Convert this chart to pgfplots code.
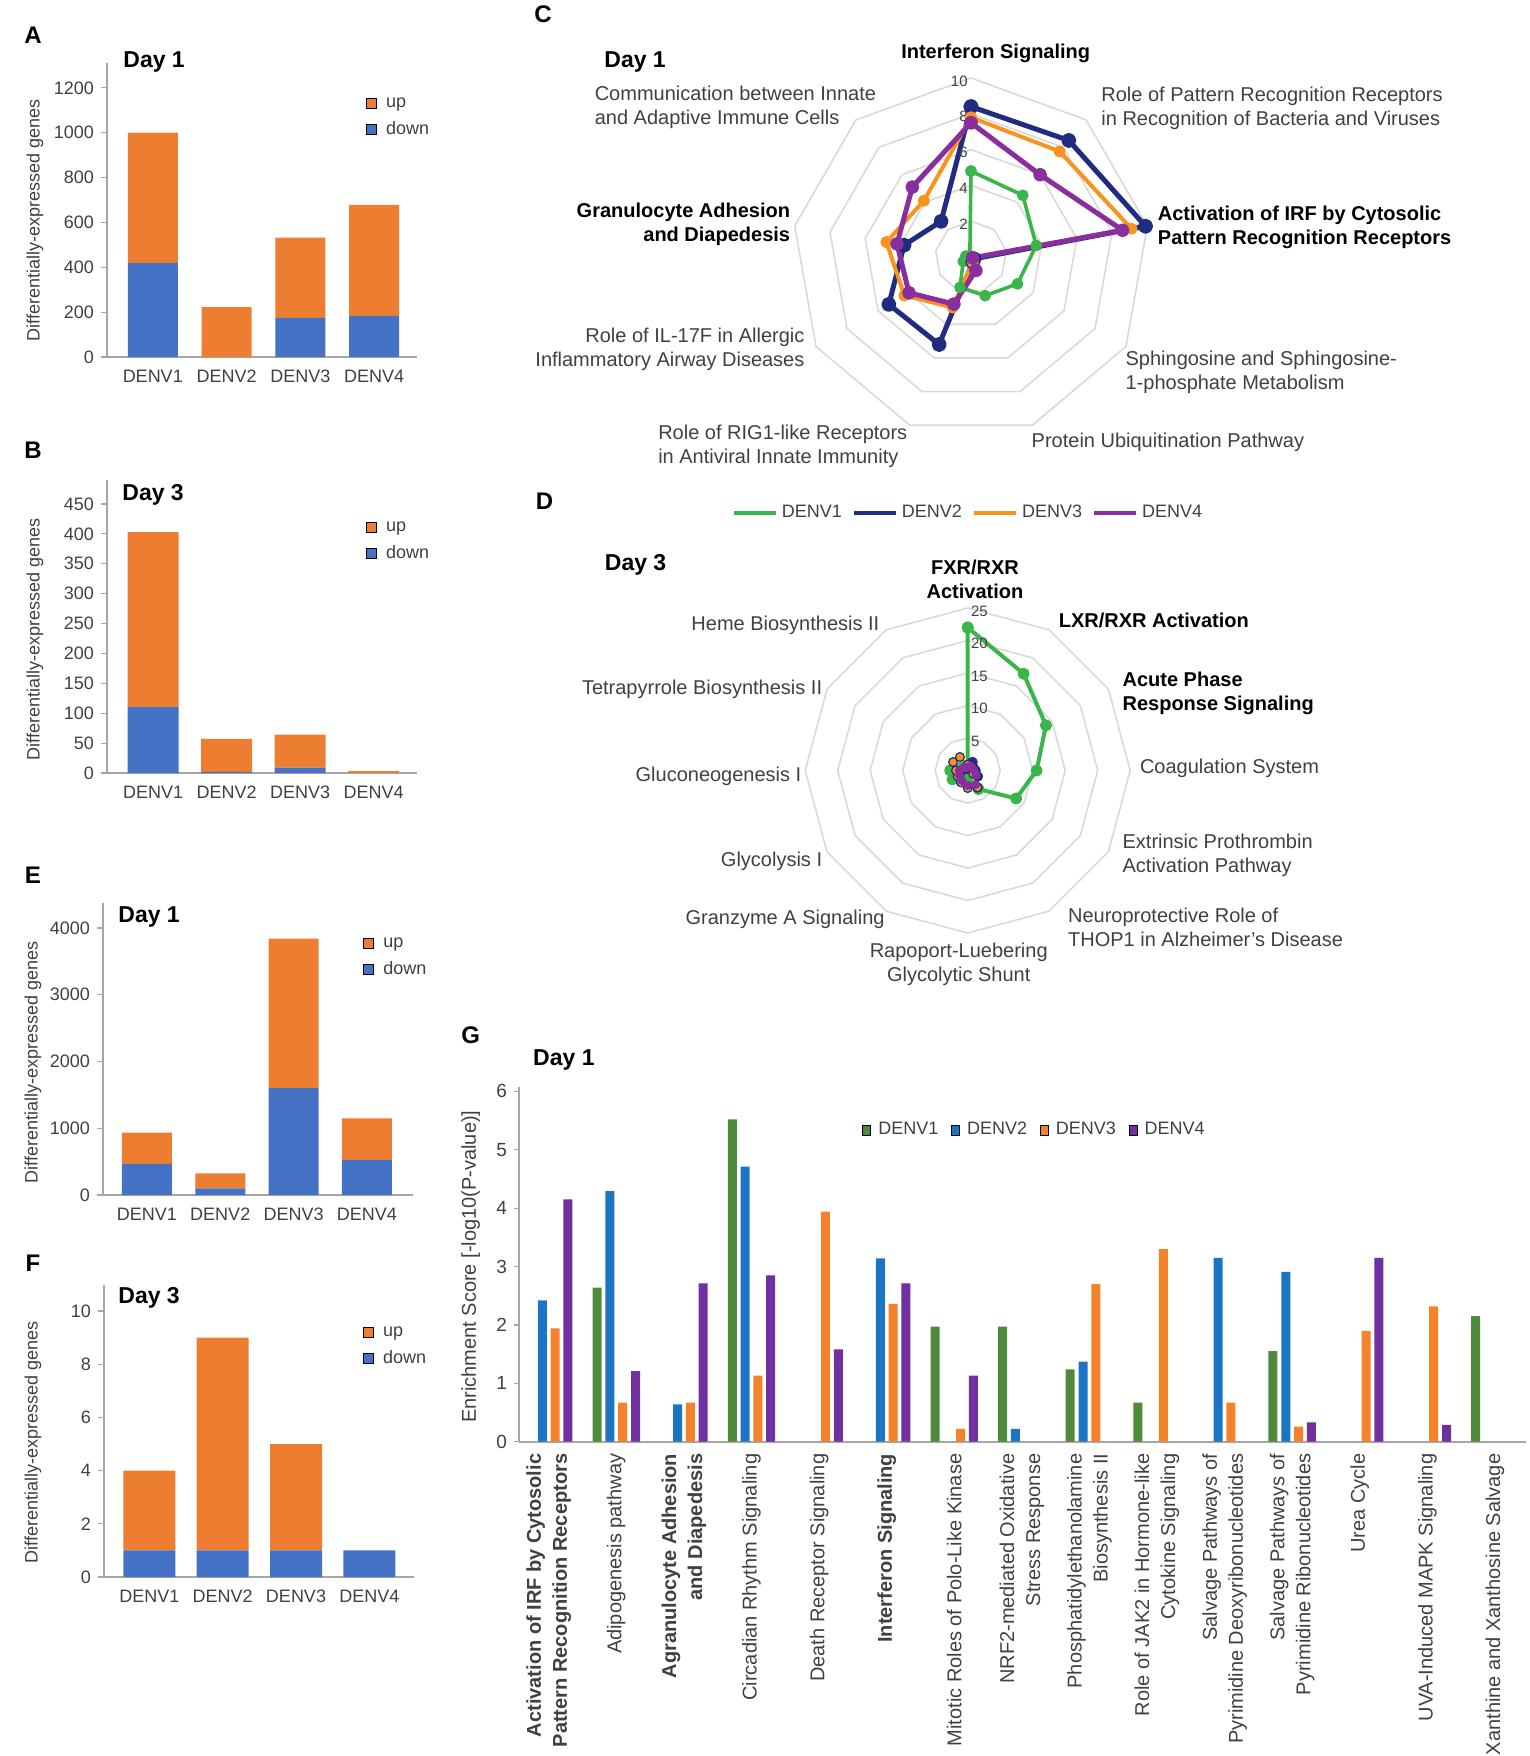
\documentclass[border=0pt]{standalone}
\usepackage{fontspec}
\setmainfont{Liberation Sans}
\usepackage{pgfplots}
\pgfplotsset{compat=1.18}
\usepgfplotslibrary{polar}

\definecolor{borange}{HTML}{ED7D31}
\definecolor{bblue}{HTML}{4472C4}
\definecolor{rgreen}{HTML}{39B54A}
\definecolor{rnavy}{HTML}{1F2C80}
\definecolor{rorange}{HTML}{F7941D}
\definecolor{rpurple}{HTML}{8A2E9E}
\definecolor{ggreen}{HTML}{4F8A3C}
\definecolor{gblue}{HTML}{1B75C4}
\definecolor{gorange}{HTML}{F5822A}
\definecolor{gpurple}{HTML}{7030A0}
\definecolor{gridc}{HTML}{D9D9D9}
\definecolor{axc}{HTML}{A6A6A6}
\definecolor{txt}{HTML}{404040}

\newcommand{\fa}{\fontsize{9}{10.8}\selectfont}
\newcommand{\fl}{\fontsize{10}{12}\selectfont}
\newcommand{\ft}{\bfseries\fontsize{11.5}{13}\selectfont}
\newcommand{\fL}{\bfseries\fontsize{12}{14}\selectfont}
\newcommand{\fs}{\fontsize{7.5}{9}\selectfont}

\pgfplotsset{
  /pgf/number format/assume math mode=true,
  /pgf/number format/1000 sep={},
  barpanel/.style={
    scale only axis, width=155pt, anchor=south west,
    ybar stacked, ymin=0,
    axis lines*=left,
    axis line style={axc, line width=0.8pt},
    xtick={0,1,2,3}, xticklabels={DENV1,DENV2,DENV3,DENV4},
    x tick style={draw=none},
    y tick style={axc, line width=0.6pt},
    tick align=outside, major tick length=3pt,
    ticklabel style={font=\fa, text=txt},
    scaled y ticks=false,
    ylabel={Differentially-expressed genes},
    ylabel style={font=\fa, text=txt, anchor=center},
    reverse legend,
    legend style={draw=none, fill=none, font=\fa, text=txt, inner sep=0pt, row sep=1.5pt, anchor=north west,
      /tikz/every odd column/.append style={column sep=2.5pt}},
    legend cell align=left,
    legend image code/.code={\draw[##1,/tikz/.cd] (0pt,-2.5pt) rectangle (5pt,2.5pt);},
  },
  radar/.style={scale only axis, hide axis, clip=false, anchor=center},
}

\begin{document}
\begin{tikzpicture}
\path[use as bounding box] (0,0) rectangle (765pt,-878pt);

%% ---------- A ----------
\begin{axis}[barpanel, at={(53.5pt,-178.5pt)}, height=147pt,
  xmin=-0.62, xmax=3.58, ymax=1311, ytick={0,200,...,1200}, bar width=25pt,
  legend style={at={(0.835,0.898)}},
  ylabel style={at={(axis description cs:-0.232,0.464)}}]
\addplot[fill=bblue, draw=none] coordinates {(0,420) (1,0) (2,175) (3,183)};
\addlegendentry{down}
\addplot[fill=borange, draw=none] coordinates {(0,580) (1,222) (2,357) (3,495)};
\addlegendentry{up}
\end{axis}

%% ---------- B ----------
\begin{axis}[barpanel, at={(53.5pt,-386.5pt)}, height=146.5pt,
  xmin=-0.626, xmax=3.59, ymax=490, ytick={0,50,...,450}, bar width=25.5pt,
  legend style={at={(0.835,0.874)}},
  ylabel style={at={(axis description cs:-0.232,0.457)}}]
\addplot[fill=bblue, draw=none] coordinates {(0,110) (1,2) (2,9) (3,0)};
\addlegendentry{down}
\addplot[fill=borange, draw=none] coordinates {(0,293) (1,55) (2,55) (3,3)};
\addlegendentry{up}
\end{axis}

%% ---------- E ----------
\begin{axis}[barpanel, at={(51.5pt,-597.5pt)}, height=146pt,
  xmin=-0.6, xmax=3.63, ymax=4375, ytick={0,1000,...,4000}, bar width=25pt,
  legend style={at={(0.839,0.897)}},
  ylabel style={at={(axis description cs:-0.226,0.455)}}]
\addplot[fill=bblue, draw=none] coordinates {(0,465) (1,100) (2,1600) (3,525)};
\addlegendentry{down}
\addplot[fill=borange, draw=none] coordinates {(0,470) (1,225) (2,2240) (3,625)};
\addlegendentry{up}
\end{axis}

%% ---------- F ----------
\begin{axis}[barpanel, at={(52pt,-788.5pt)}, height=146pt,
  xmin=-0.62, xmax=3.61, ymax=10.98, ytick={0,2,...,10}, bar width=26pt,
  legend style={at={(0.835,0.873)}},
  ylabel style={at={(axis description cs:-0.229,0.462)}}]
\addplot[fill=bblue, draw=none] coordinates {(0,1) (1,1) (2,1) (3,1)};
\addlegendentry{down}
\addplot[fill=borange, draw=none] coordinates {(0,3) (1,8) (2,4) (3,0)};
\addlegendentry{up}
\end{axis}

%% ---------- C (radar, Day 1) ----------
\begin{axis}[radar, at={(485.5pt,-128.5pt)}, width=179pt, height=179pt,
  xmin=-10, xmax=10, ymin=-10, ymax=10]
\pgfplotsinvokeforeach{2,4,6,8,10}{
\addplot[gridc, line width=0.8pt, line join=round, data cs=polar, forget plot] coordinates
 {(90,#1) (50,#1) (10,#1) (-30,#1) (-70,#1) (-110,#1) (-150,#1) (170,#1) (130,#1) (90,#1)};
}
\addplot[rgreen, line width=1.8pt, line join=round, mark=*, mark size=2pt, data cs=polar] coordinates
 {(90,4.8) (50,4.5) (10,3.7) (-30,3.0) (-70,2.3) (-110,1.8) (-150,0.5) (170,0.3) (130,0.1) (90,4.8)};
\addplot[rnavy, line width=2.5pt, line join=round, mark=*, mark size=2.5pt, data cs=polar] coordinates
 {(90,8.4) (50,8.5) (10,9.9) (-30,0.2) (-70,0.3) (-110,5.2) (-150,5.3) (170,3.8) (130,2.6) (90,8.4)};
\addplot[rorange, line width=2pt, line join=round, mark=*, mark size=2pt, data cs=polar] coordinates
 {(90,7.8) (50,7.7) (10,9.1) (-30,0.1) (-70,0.3) (-110,3.0) (-150,4.3) (170,4.8) (130,4.1) (90,7.8)};
\addplot[rpurple, line width=2.5pt, line join=round, mark=*, mark size=2.2pt, data cs=polar] coordinates
 {(90,7.5) (50,6.0) (10,8.6) (-30,0.1) (-70,0.8) (-110,2.8) (-150,4.0) (170,4.2) (130,5.1) (90,7.5)};
\pgfplotsinvokeforeach{0,2,4,6,8,10}{
  \node[anchor=east, font=\fs, text=txt, inner sep=0pt, xshift=-1.5pt, yshift=-1.5pt] at (axis cs:0,#1) {#1};
}
\end{axis}

%% ---------- D (radar, Day 3) ----------
\begin{axis}[radar, at={(483.85pt,-385.25pt)}, width=162.5pt, height=162.5pt,
  xmin=-25, xmax=25, ymin=-25, ymax=25,
  legend columns=4,
  legend style={at={(0.504,1.292)}, anchor=center, draw=none, fill=none, font=\fa, text=txt, inner sep=0pt,
    /tikz/every even column/.append style={column sep=3pt}},
  legend image code/.code={\draw[#1, line width=2pt] (0pt,0pt) -- (21pt,0pt);}]
\pgfplotsinvokeforeach{5,10,15,20,25}{
\addplot[gridc, line width=0.8pt, line join=round, data cs=polar, forget plot] coordinates
 {(90,#1) (60,#1) (30,#1) (0,#1) (-30,#1) (-60,#1) (-90,#1) (-120,#1) (-150,#1) (180,#1) (150,#1) (120,#1) (90,#1)};
}
\addplot[rgreen, line width=2pt, line join=round, mark=*, mark size=2pt, data cs=polar] coordinates
 {(90,22.0) (60,17.2) (30,13.9) (0,10.6) (-30,8.6) (-60,3.3) (-90,1.0) (-120,1.5) (-150,2.7) (180,2.7) (150,1.0) (120,0.0) (90,22.0)};
\addlegendentry{DENV1}
\addplot[rnavy, line width=1.2pt, line join=round, mark=*, mark size=2pt, data cs=polar] coordinates
 {(90,0.5) (60,1.5) (30,1.0) (0,1.2) (-30,1.8) (-60,3.0) (-90,2.5) (-120,2.0) (-150,1.5) (180,1.0) (150,0.5) (120,0.3) (90,0.5)};
\addlegendentry{DENV2}
\addplot[rorange, line width=1.2pt, line join=round, mark=*, mark size=2.2pt, mark options={draw=rnavy, line width=0.6pt}, data cs=polar] coordinates
 {(90,0.9) (60,0.5) (30,0.5) (0,0.8) (-30,1.0) (-60,3.0) (-90,2.7) (-120,2.1) (-150,1.8) (180,1.8) (150,2.6) (120,2.4) (90,0.9)};
\addlegendentry{DENV3}
\addplot[rpurple, line width=1.2pt, line join=round, mark=*, mark size=1.6pt, data cs=polar] coordinates
 {(90,0.5) (60,0.8) (30,0.8) (0,1.0) (-30,1.5) (-60,2.5) (-90,2.3) (-120,1.8) (-150,1.5) (180,1.3) (150,0.8) (120,0.5) (90,0.5)};
\addlegendentry{DENV4}
\pgfplotsinvokeforeach{0,5,10,15,20,25}{
  \node[anchor=west, font=\fs, text=txt, inner sep=0pt, xshift=1.5pt, yshift=-1.5pt] at (axis cs:0,#1) {#1};
}
\end{axis}

%% ---------- G ----------
\begin{axis}[at={(259.5pt,-720.85pt)}, anchor=south west, scale only axis,
  width=503.5pt, height=177.5pt,
  ybar=1.9pt, bar width=4.5pt,
  xmin=-0.44, xmax=14.46, ymin=0, ymax=6.08,
  ytick={0,1,...,6}, xtick={0,1,...,14},
  axis lines*=left,
  axis line style={axc, line width=0.8pt},
  x tick style={draw=none},
  y tick style={axc, line width=0.6pt},
  tick align=outside, major tick length=2.5pt,
  yticklabel style={font=\fontsize{9.5}{11}\selectfont, text=txt},
  xticklabel style={rotate=90, anchor=east, align=right, font=\fontsize{10}{13}\selectfont, text=txt},
  xticklabels={
   {\textbf{Activation of IRF by Cytosolic}\\\textbf{Pattern Recognition Receptors}},
   Adipogenesis pathway,
   {\textbf{Agranulocyte Adhesion}\\\textbf{and Diapedesis}},
   Circadian Rhythm Signaling,
   Death Receptor Signaling,
   \textbf{Interferon Signaling},
   Mitotic Roles of Polo-Like Kinase,
   {NRF2-mediated Oxidative\\Stress Response},
   {Phosphatidylethanolamine\\Biosynthesis II},
   {Role of JAK2 in Hormone-like\\Cytokine Signaling},
   {Salvage Pathways of\\Pyrimidine Deoxyribonucleotides},
   {Salvage Pathways of\\Pyrimidine Ribonucleotides},
   Urea Cycle,
   UVA-Induced MAPK Signaling,
   Xanthine and Xanthosine Salvage},
  ylabel={Enrichment Score [-log10(P-value)]},
  ylabel style={font=\fl, text=txt, anchor=center, at={(axis description cs:-0.048,0.493)}},
  legend columns=4,
  legend style={at={(0.513,0.878)}, anchor=center, draw=none, fill=none, font=\fa, text=txt, inner sep=0pt,
    /tikz/every odd column/.append style={column sep=1.5pt},
    /tikz/every even column/.append style={column sep=4.5pt}},
  legend image code/.code={\draw[#1,/tikz/.cd] (0pt,-2.5pt) rectangle (4pt,2.5pt);}]
\addplot[fill=ggreen, draw=none] coordinates
 {(1,2.64) (3,5.52) (6,1.97) (7,1.97) (8,1.24) (9,0.67) (11,1.55) (14,2.15)};
\addlegendentry{DENV1}
\addplot[fill=gblue, draw=none] coordinates
 {(0,2.42) (1,4.29) (2,0.64) (3,4.71) (5,3.14) (7,0.22) (8,1.37) (10,3.15) (11,2.91)};
\addlegendentry{DENV2}
\addplot[fill=gorange, draw=none] coordinates
 {(0,1.94) (1,0.67) (2,0.67) (3,1.13) (4,3.94) (5,2.36) (6,0.22) (8,2.70) (9,3.30) (10,0.67) (11,0.26) (12,1.90) (13,2.32)};
\addlegendentry{DENV3}
\addplot[fill=gpurple, draw=none] coordinates
 {(0,4.15) (1,1.21) (2,2.71) (3,2.85) (4,1.58) (5,2.71) (6,1.13) (11,0.33) (12,3.15) (13,0.29)};
\addlegendentry{DENV4}
\end{axis}

%% ---------- panel letters and titles ----------
\node[font=\fL] at (16.5pt,-17.5pt) {A};
\node[font=\fL] at (16.5pt,-225pt) {B};
\node[font=\fL] at (16.5pt,-437.5pt) {E};
\node[font=\fL] at (16.5pt,-631.5pt) {F};
\node[font=\fL] at (271.5pt,-7pt) {C};
\node[font=\fL] at (272.25pt,-250.85pt) {D};
\node[font=\fL] at (235.35pt,-517.5pt) {G};

\node[font=\ft, anchor=west, inner sep=0pt] at (61.5pt,-31pt) {Day 1};
\node[font=\ft, anchor=west, inner sep=0pt] at (61pt,-247.5pt) {Day 3};
\node[font=\ft, anchor=west, inner sep=0pt] at (59pt,-458.5pt) {Day 1};
\node[font=\ft, anchor=west, inner sep=0pt] at (59pt,-649pt) {Day 3};
\node[font=\ft, anchor=west, inner sep=0pt] at (302pt,-31pt) {Day 1};
\node[font=\ft, anchor=west, inner sep=0pt] at (302.25pt,-282.5pt) {Day 3};
\node[font=\ft, anchor=west, inner sep=0pt] at (266.4pt,-530pt) {Day 1};

%% ---------- C labels ----------
\begin{scope}[every node/.style={font=\fl, text=txt, inner sep=0pt}]
\node[font=\fl\bfseries, text=black] at (497.85pt,-26.65pt) {Interferon Signaling};
\node[anchor=west, align=left] at (297.2pt,-53.6pt) {Communication between Innate\\and Adaptive Immune Cells};
\node[anchor=west, align=left] at (550.5pt,-54.35pt) {Role of Pattern Recognition Receptors\\in Recognition of Bacteria and Viruses};
\node[anchor=west, align=left, font=\fl\bfseries, text=black] at (578.75pt,-113.6pt) {Activation of IRF by Cytosolic\\Pattern Recognition Receptors};
\node[anchor=east, align=right, font=\fl\bfseries, text=black] at (395.25pt,-111.95pt) {Granulocyte Adhesion\\and Diapedesis};
\node[anchor=east, align=right] at (402.4pt,-174.75pt) {Role of IL-17F in Allergic\\Inflammatory Airway Diseases};
\node[anchor=west, align=left] at (562.6pt,-186pt) {Sphingosine and Sphingosine-\\1-phosphate Metabolism};
\node[anchor=west] at (515.65pt,-221.35pt) {Protein Ubiquitination Pathway};
\node[anchor=west, align=left] at (328.95pt,-223.4pt) {Role of RIG1-like Receptors\\in Antiviral Innate Immunity};

%% ---------- D labels ----------
\node[align=center, font=\fl\bfseries, text=black] at (487.5pt,-289.75pt) {FXR/RXR\\Activation};
\node[anchor=west, font=\fl\bfseries, text=black] at (529.2pt,-310.35pt) {LXR/RXR Activation};
\node[anchor=west, align=left, font=\fl\bfseries, text=black] at (561.1pt,-346.65pt) {Acute Phase\\Response Signaling};
\node[anchor=west] at (569.8pt,-384.35pt) {Coagulation System};
\node[anchor=west, align=left] at (561.1pt,-427.9pt) {Extrinsic Prothrombin\\Activation Pathway};
\node[anchor=west, align=left] at (533.85pt,-463.6pt) {Neuroprotective Role of\\THOP1 in Alzheimer's Disease};
\node[align=center] at (479.35pt,-482.35pt) {Rapoport-Luebering\\Glycolytic Shunt};
\node[anchor=east] at (442.5pt,-459.65pt) {Granzyme A Signaling};
\node[anchor=east] at (411.25pt,-430.85pt) {Glycolysis I};
\node[anchor=east] at (400.85pt,-388pt) {Gluconeogenesis I};
\node[anchor=east] at (411.25pt,-344.65pt) {Tetrapyrrole Biosynthesis II};
\node[anchor=east] at (439.85pt,-312.5pt) {Heme Biosynthesis II};
\end{scope}

\end{tikzpicture}
\end{document}
